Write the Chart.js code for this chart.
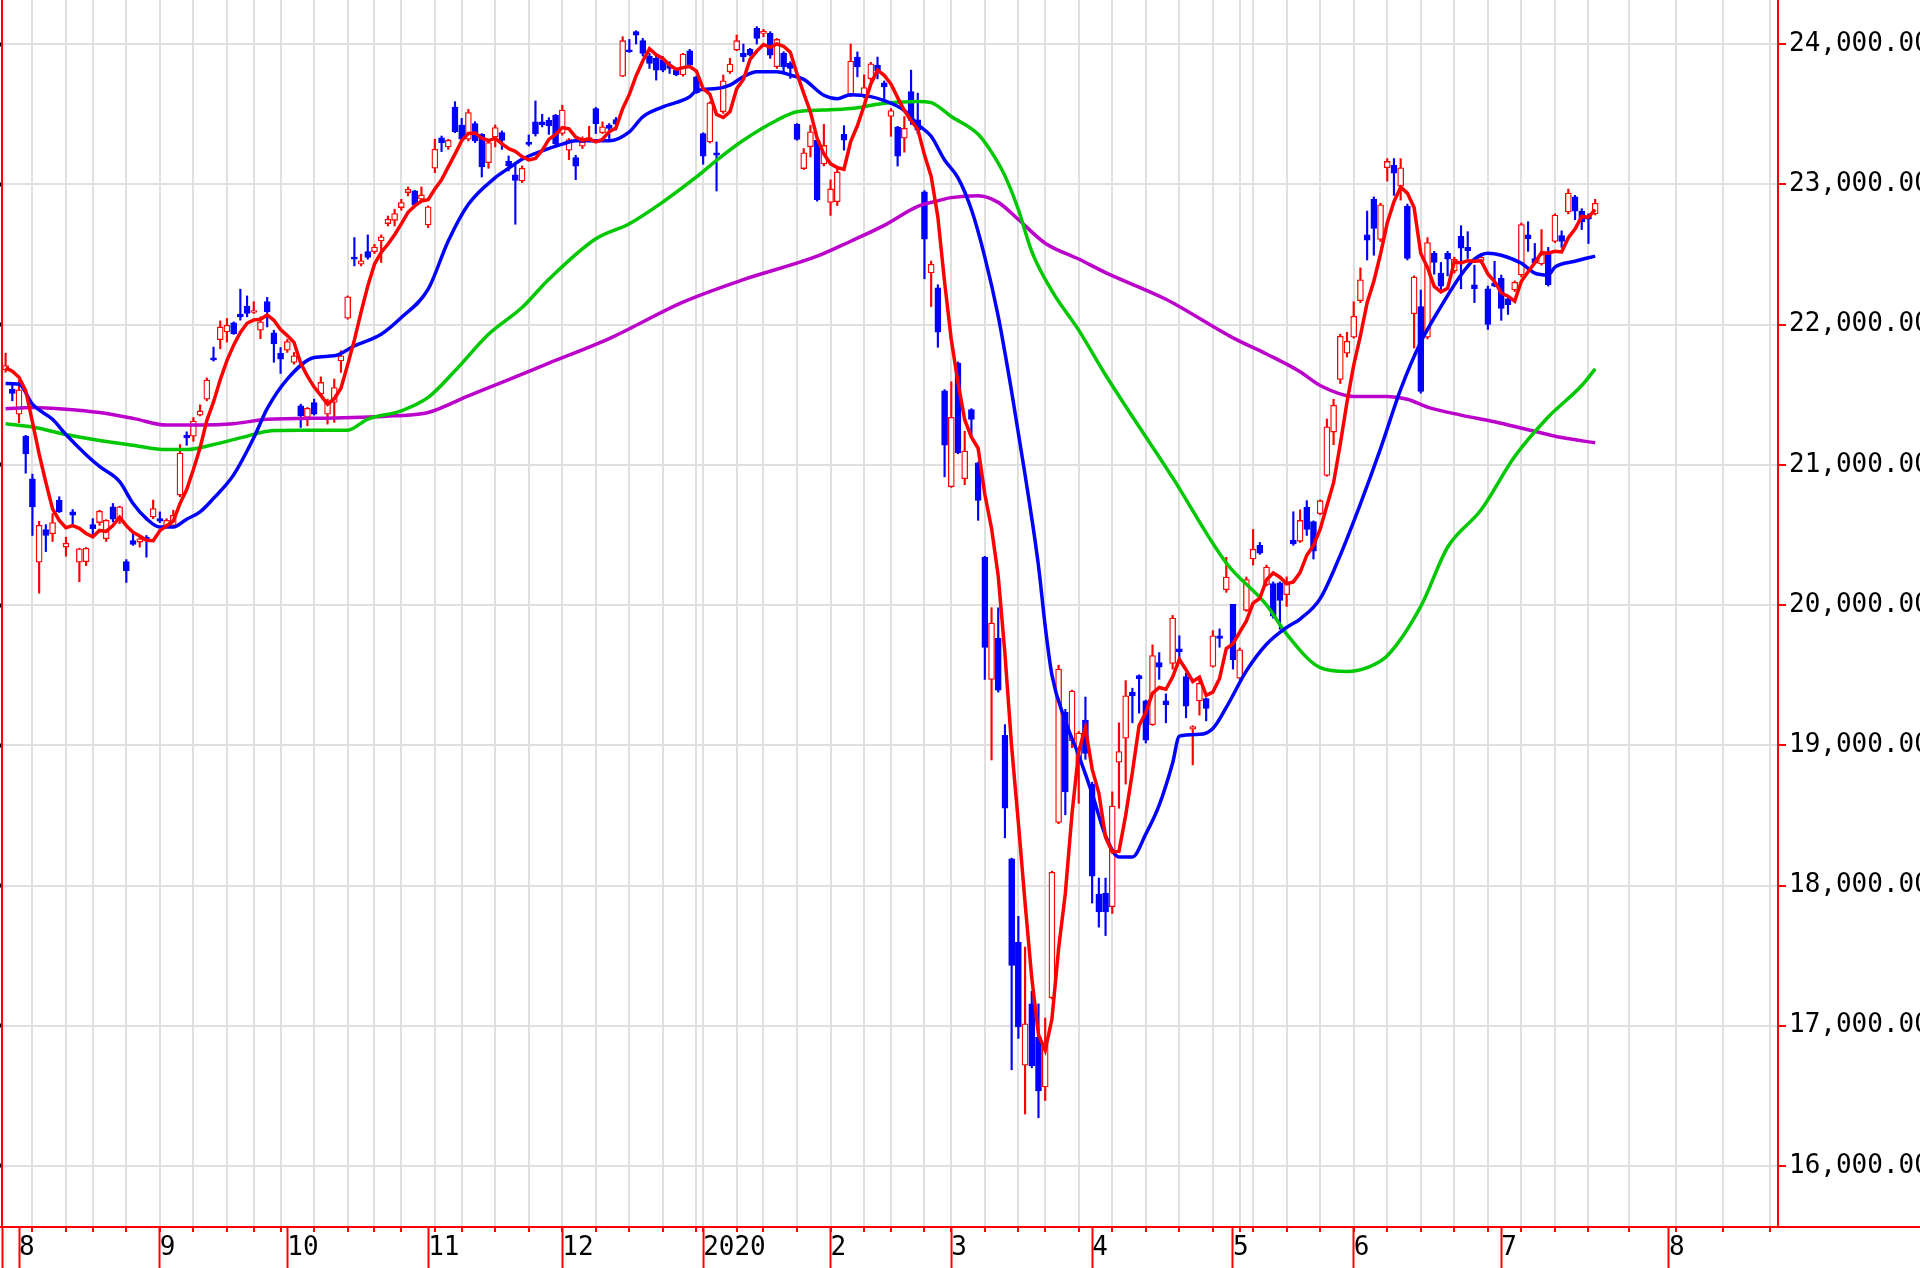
<!DOCTYPE html>
<html lang="ja">
<head>
<meta charset="utf-8">
<title>日足チャート</title>
<script src="https://cdn.jsdelivr.net/npm/chart.js@4/dist/chart.umd.min.js"></script>
<style>
  html, body { margin: 0; padding: 0; background: #fff; }
  #wrap { width: 1920px; height: 1268px; position: relative; }
</style>
</head>
<body>
<div id="wrap"><canvas id="chart"></canvas></div>
<script>
// daily candles, 2019-07-30 .. 2020-07-21 (index = trading day)
const opens = [
  21676, 21540, 21360, 21204, 20899, 20305, 20537, 20508, 20748, 20413,
  20664, 20305, 20309, 20573, 20588, 20472, 20700, 20597, 20309, 20460,
  20449, 20484, 20628, 20616, 20568, 20568, 20784, 21211, 21204, 21353,
  21468, 21763, 21892, 21947, 22012, 22074, 22132, 22086, 21959, 22163,
  21940, 21794, 21817, 21729, 21421, 21338, 21444, 21504, 21361, 21444,
  21741, 22045, 22478, 22430, 22520, 22520, 22596, 22720, 22743, 22834,
  22941, 22953, 22893, 22710, 23114, 23332, 23266, 23551, 23423, 23321,
  23432, 23356, 23154, 23337, 23368, 23166, 23067, 23024, 23297, 23446,
  23446, 23456, 23493, 23362, 23243, 23190, 23271, 23314, 23540, 23367,
  23421, 23462, 23771, 23957, 24088, 24024, 23914, 23898, 23890, 23850,
  23814, 23779, 23952, 23767, 23362, 23302, 23224, 23517, 23802, 23957,
  23933, 23962, 24112, 24076, 24076, 23838, 23933, 23862, 23429, 23112,
  23267, 23314, 23145, 22871, 22876, 23356, 23639, 23907, 23625, 23752,
  23850, 23723, 23483, 23407, 23328, 23661, 23460, 22947, 22368, 22261,
  21527, 20844, 21725, 20900, 21394, 21013, 20341, 19469, 19762, 19070,
  18190, 17594, 16719, 17156, 16918, 16563, 17200, 18450, 19234, 19032,
  18873, 19180, 18723, 17938, 17944, 17848, 18879, 19051, 19379, 19497,
  19316, 19147, 19590, 19316, 19584, 19688, 19489, 19114, 19316, 19333,
  19562, 19781, 20109, 20004, 19478, 19962, 20328, 20426, 20145, 20153,
  20159, 20074, 20463, 20454, 20699, 20595, 20651, 20924, 21233, 21608,
  21796, 21909, 22170, 22640, 22893, 22606, 23118, 23135, 22986, 22845,
  22077, 22128, 21909, 22508, 22367, 22508, 22381, 22629, 22550, 22283,
  22451, 22255, 22297, 22330, 22184, 22246, 22353, 22640, 22471, 22432,
  22508, 22592, 22634, 22803, 22910, 22809, 22775, 22789
];
const highs = [
  21796, 21576, 21600, 21210, 20933, 20597, 20573, 20652, 20772, 20484,
  20681, 20405, 20410, 20616, 20676, 20609, 20724, 20705, 20324, 20508,
  20496, 20496, 20748, 20664, 20616, 20676, 21144, 21235, 21336, 21427,
  21619, 21839, 22026, 22043, 22019, 22252, 22204, 22163, 22055, 22194,
  21959, 21836, 21896, 21801, 21432, 21409, 21468, 21627, 21468, 21611,
  21813, 22204, 22620, 22501, 22639, 22572, 22639, 22774, 22822, 22893,
  22981, 22957, 22981, 22846, 23321, 23344, 23321, 23589, 23470, 23534,
  23446, 23361, 23304, 23423, 23380, 23202, 23143, 23131, 23352, 23594,
  23499, 23475, 23498, 23564, 23326, 23207, 23338, 23414, 23548, 23445,
  23433, 23476, 24052, 24033, 24095, 24040, 23933, 23914, 23910, 23874,
  23819, 23933, 23962, 23771, 23367, 23588, 23302, 23779, 23898, 24064,
  24000, 23969, 24124, 24105, 24088, 24040, 23945, 23874, 23433, 23255,
  23421, 23326, 23427, 23032, 23116, 23418, 24000, 23944, 23780, 23870,
  23907, 23737, 23540, 23413, 23483, 23814, 23650, 22955, 22453, 22284,
  21536, 21592, 21733, 21239, 21400, 21019, 20347, 19981, 19980, 19147,
  18195, 17780, 17561, 17246, 17156, 17055, 18102, 19571, 19256, 19393,
  19098, 19344, 18737, 18053, 18053, 18668, 19160, 19461, 19407, 19502,
  19322, 19716, 19661, 19366, 19926, 19781, 19516, 19139, 19475, 19338,
  19817, 19830, 20340, 20005, 19694, 20200, 20539, 20446, 20285, 20165,
  20165, 20201, 20665, 20679, 20744, 20600, 20750, 21326, 21467, 21931,
  21945, 22162, 22404, 22809, 22910, 22865, 23183, 23183, 23183, 22859,
  22347, 22246, 22620, 22522, 22443, 22522, 22480, 22705, 22662, 22423,
  22494, 22274, 22451, 22353, 22198, 22311, 22724, 22733, 22578, 22677,
  22550, 22789, 22668, 22966, 22921, 22826, 22789, 22893
];
const lows = [
  21660, 21456, 21300, 20940, 20496, 20084, 20381, 20453, 20660, 20348,
  20568, 20166, 20281, 20496, 20568, 20453, 20592, 20580, 20161, 20425,
  20413, 20341, 20616, 20588, 20561, 20563, 20772, 21139, 21168, 21348,
  21456, 21739, 21827, 21875, 21930, 22031, 22055, 22079, 21899, 21983,
  21731, 21651, 21801, 21717, 21266, 21278, 21354, 21492, 21290, 21302,
  21658, 22038, 22418, 22418, 22466, 22506, 22442, 22703, 22703, 22815,
  22917, 22846, 22886, 22691, 23083, 23233, 23249, 23368, 23309, 23309,
  23297, 23052, 23114, 23266, 23249, 23095, 22715, 23012, 23273, 23344,
  23409, 23356, 23279, 23350, 23176, 23033, 23255, 23310, 23362, 23362,
  23326, 23386, 23767, 23940, 24000, 23914, 23826, 23743, 23802, 23790,
  23774, 23771, 23843, 23648, 23143, 23295, 22952, 23505, 23790, 23952,
  23874, 23914, 24000, 24052, 23898, 23826, 23802, 23755, 23314, 23105,
  23195, 22880, 23131, 22778, 22848, 23243, 23625, 23766, 23616, 23737,
  23752, 23596, 23342, 23130, 23229, 23427, 23360, 22326, 22128, 21838,
  20914, 20838, 21078, 20858, 21211, 20604, 19469, 18895, 19379, 18340,
  16686, 16910, 16371, 16700, 16344, 16467, 17192, 18441, 18504, 18983,
  18586, 18900, 17875, 17703, 17643, 17801, 18551, 18723, 19160, 19229,
  19016, 19141, 19470, 19160, 19543, 19612, 19196, 18860, 19215, 19174,
  19557, 19699, 20090, 19543, 19470, 19954, 20285, 20361, 20136, 19906,
  19827, 19990, 20426, 20446, 20496, 20328, 20643, 20918, 21143, 21579,
  21768, 21903, 22156, 22460, 22494, 22592, 23023, 22921, 22887, 22460,
  21833, 21510, 21897, 22359, 22240, 22347, 22367, 22255, 22471, 22156,
  22437, 21965, 22269, 22030, 22072, 22235, 22339, 22522, 22432, 22423,
  22274, 22584, 22550, 22789, 22747, 22677, 22578, 22781
];
const closes = [
  21707, 21508, 21535, 21077, 20700, 20568, 20496, 20588, 20664, 20441,
  20640, 20401, 20405, 20544, 20669, 20604, 20612, 20700, 20245, 20432,
  20472, 20460, 20688, 20597, 20604, 20640, 21084, 21192, 21312, 21384,
  21604, 21748, 21983, 21995, 21935, 22055, 22079, 22096, 22019, 22091,
  21863, 21753, 21879, 21777, 21349, 21402, 21361, 21587, 21456, 21551,
  21777, 22197, 22466, 22454, 22478, 22553, 22625, 22751, 22791, 22869,
  22964, 22853, 22924, 22839, 23249, 23297, 23313, 23375, 23321, 23511,
  23309, 23124, 23297, 23404, 23313, 23131, 23028, 23114, 23285, 23361,
  23423, 23416, 23290, 23529, 23319, 23129, 23302, 23333, 23433, 23410,
  23398, 23429, 24024, 23945, 24064, 23933, 23862, 23814, 23814, 23826,
  23779, 23929, 23850, 23652, 23200, 23581, 23207, 23738, 23857, 24024,
  23910, 23921, 24040, 24088, 23921, 24033, 23838, 23826, 23319, 23224,
  23374, 22890, 23277, 22967, 23088, 23314, 23879, 23836, 23689, 23859,
  23808, 23695, 23526, 23201, 23399, 23455, 23386, 22608, 22430, 21945,
  21140, 21338, 21084, 21098, 21324, 20745, 19698, 19871, 19393, 18551,
  17430, 16992, 17014, 16713, 16535, 16872, 18094, 19543, 18668, 19387,
  19087, 18942, 18067, 17812, 17812, 18567, 18955, 19352, 19352, 19475,
  19037, 19639, 19557, 19289, 19907, 19666, 19278, 19133, 19442, 19262,
  19781, 19762, 20200, 19610, 19681, 20181, 20398, 20370, 20271, 19920,
  20032, 20165, 20435, 20603, 20539, 20384, 20744, 21270, 21425, 21917,
  21880, 22058, 22319, 22601, 22685, 22854, 23163, 23079, 23118, 22471,
  22339, 21523, 22584, 22443, 22274, 22466, 22466, 22544, 22527, 22255,
  22480, 22001, 22274, 22114, 22142, 22302, 22713, 22612, 22437, 22499,
  22283, 22781, 22592, 22938, 22809, 22733, 22752, 22865
];

// red line, one value per day
const ma5 = [
  21691, 21667, 21624, 21528, 21305, 21078, 20875, 20686, 20603, 20551,
  20566, 20547, 20510, 20486, 20532, 20525, 20567, 20626, 20566, 20519,
  20492, 20462, 20459, 20530, 20564, 20598, 20723, 20823, 20966, 21122,
  21315, 21448, 21606, 21743, 21853, 21943, 22009, 22032, 22037, 22068,
  22030, 21964, 21921, 21873, 21724, 21632, 21554, 21495, 21431, 21471,
  21546, 21714, 21889, 22089, 22274, 22430, 22515, 22572, 22640, 22718,
  22800, 22846, 22880, 22890, 22966, 23032, 23124, 23215, 23311, 23363,
  23366, 23328, 23312, 23329, 23289, 23254, 23235, 23198, 23174, 23184,
  23242, 23320, 23355, 23404, 23395, 23337, 23314, 23322, 23303, 23321,
  23375, 23401, 23539, 23641, 23772, 23879, 23966, 23924, 23897, 23850,
  23819, 23832, 23840, 23807, 23682, 23642, 23498, 23476, 23517, 23681,
  23747, 23890, 23950, 23997, 23976, 24001, 23984, 23941, 23787, 23648,
  23516, 23327, 23217, 23146, 23119, 23107, 23305, 23417, 23561, 23715,
  23814, 23777, 23715, 23618, 23526, 23455, 23393, 23210, 23056, 22765,
  22302, 21892, 21587, 21321, 21197, 21118, 20790, 20547, 20206, 19652,
  18989, 18447, 17876, 17340, 16937, 16825, 17046, 17551, 17942, 18513,
  18956, 19125, 18830, 18659, 18344, 18240, 18243, 18500, 18808, 19140,
  19234, 19371, 19412, 19399, 19486, 19612, 19539, 19455, 19485, 19356,
  19379, 19476, 19689, 19723, 19807, 19887, 20014, 20048, 20180, 20228,
  20198, 20152, 20165, 20231, 20355, 20425, 20541, 20708, 20872, 21148,
  21447, 21710, 21920, 22155, 22309, 22503, 22724, 22876, 22980, 22937,
  22834, 22506, 22407, 22272, 22233, 22258, 22447, 22439, 22455, 22452,
  22454, 22361, 22307, 22225, 22202, 22167, 22309, 22377, 22441, 22513,
  22509, 22522, 22518, 22619, 22681, 22771, 22765, 22819
];
// blue, green, purple lines: [day, value]
const ma25 = [
  [0, 21580], [2, 21575], [4, 21432], [7, 21324], [9, 21216], [12, 21072], [14, 20988],
  [17, 20880], [19, 20724], [21, 20616], [23, 20556], [25, 20556], [27, 20612], [29, 20664],
  [31, 20760], [34, 20928], [37, 21192], [39, 21400], [42, 21611], [46, 21765], [49, 21777],
  [52, 21848], [56, 21931], [59, 22050], [63, 22252], [66, 22596], [69, 22857], [73, 23047],
  [75, 23114], [77, 23178], [80, 23238], [83, 23286], [85, 23310], [90, 23310], [93, 23374],
  [95, 23481], [98, 23552], [102, 23624], [103, 23667], [106, 23683], [108, 23707], [110, 23767],
  [112, 23802], [115, 23802], [117, 23779], [119, 23748], [122, 23635], [124, 23610], [126, 23639],
  [129, 23625], [131, 23596], [134, 23526], [136, 23427], [138, 23342], [140, 23173], [142, 23046],
  [144, 22820], [146, 22481], [148, 22058], [150, 21521], [152, 20929], [154, 20279], [155, 19850],
  [156, 19502], [158, 19174], [160, 18928], [162, 18655], [164, 18354], [166, 18203], [168, 18203],
  [170, 18367], [172, 18573], [174, 18873], [175, 19065], [178, 19078], [180, 19120], [182, 19270],
  [185, 19530], [188, 19720], [191, 19840], [193, 19900], [196, 20046], [199, 20356], [202, 20721],
  [205, 21115], [208, 21537], [211, 21875], [214, 22128], [217, 22353], [219, 22466], [221, 22508],
  [223, 22494], [226, 22437], [228, 22367], [230, 22353], [231, 22409], [234, 22451], [237, 22488]
];
const ma75 = [
  [0, 21293], [4, 21269], [9, 21216], [14, 21173], [19, 21139], [24, 21108], [27, 21108],
  [31, 21144], [35, 21192], [40, 21245], [44, 21247], [51, 21247], [54, 21326], [59, 21385],
  [63, 21480], [67, 21670], [72, 21931], [77, 22121], [81, 22323], [88, 22612], [93, 22719],
  [98, 22874], [103, 23052], [106, 23171], [110, 23314], [115, 23457], [118, 23517], [122, 23529],
  [126, 23540], [131, 23577], [136, 23591], [138, 23582], [141, 23483], [145, 23356], [147, 23229],
  [149, 23060], [151, 22820], [153, 22520], [156, 22240], [160, 21960], [164, 21640], [174, 20908],
  [182, 20300], [188, 20000], [191, 19793], [196, 19554], [200, 19526], [203, 19554], [206, 19638],
  [211, 19990], [215, 20412], [220, 20679], [225, 21059], [230, 21341], [235, 21565], [237, 21684]
];
const ma200 = [
  [0, 21400], [4, 21408], [9, 21396], [14, 21372], [19, 21331], [24, 21283], [29, 21283],
  [34, 21293], [39, 21324], [49, 21333], [58, 21349], [63, 21373], [69, 21492], [74, 21587],
  [81, 21725], [90, 21900], [101, 22160], [110, 22320], [121, 22487], [126, 22594], [131, 22707],
  [136, 22843], [139, 22882], [141, 22905], [145, 22919], [148, 22871], [151, 22749], [155, 22580],
  [160, 22467], [164, 22370], [173, 22180], [183, 21905], [188, 21790], [193, 21664], [196, 21565],
  [201, 21487], [206, 21487], [209, 21467], [212, 21411], [217, 21354], [222, 21307], [227, 21250],
  [232, 21194], [237, 21157]
];

// axis ticks (day index) and labels
const weekStarts = [4, 9, 13, 18, 23, 28, 33, 37, 41, 46, 51, 55, 59, 64, 68, 73, 78, 83, 88, 93,
  98, 103, 104, 109, 113, 118, 123, 128, 132, 137, 141, 146, 151, 155, 160, 165, 170, 175, 180,
  184, 186, 191, 196, 201, 206, 211, 216, 221, 226, 231, 236, 242, 249, 256, 263];
const monthTicks = [-0.537, 2, 23, 42, 63, 83, 104, 123, 141, 162, 183, 201, 223, 248];
const monthLabels = ['', '8', '9', '10', '11', '12', '2020', '2', '3', '4', '5', '6', '7', '8'];
const yTicks = [16000, 17000, 18000, 19000, 20000, 21000, 22000, 23000, 24000];

const RED = '#ff0000', BLUE = '#0000ff', GRID = '#e0e0e0';
const FONT = { family: 'DejaVu Sans Mono', size: 26 };
const xMin = -0.537, xMax = 264.26, yMin = 15565, yMax = 24314;
const isUp = i => closes[i] >= opens[i];
const noPad = s => { s.paddingTop = 0; s.paddingBottom = 0; s.paddingLeft = 0; s.paddingRight = 0; };

const bottomLine = {
  id: 'bottomLine',
  afterDraw(chart) {
    const { ctx, chartArea } = chart;
    ctx.save();
    ctx.fillStyle = RED;
    ctx.fillRect(0, chartArea.bottom - 1, chart.width, 2);
    ctx.restore();
  }
};

new Chart(document.getElementById('chart'), {
  type: 'bar',
  data: {
    datasets: [
      {
        type: 'line', label: 'MA5', order: 0,
        data: ma5.map((v, i) => ({ x: i, y: v })),
        borderColor: RED, borderWidth: 3.5, pointRadius: 0, tension: 0
      },
      {
        type: 'line', label: 'MA25', order: 1,
        data: ma25.map(p => ({ x: p[0], y: p[1] })),
        borderColor: BLUE, borderWidth: 3.5, pointRadius: 0, cubicInterpolationMode: 'monotone'
      },
      {
        type: 'line', label: 'MA75', order: 2,
        data: ma75.map(p => ({ x: p[0], y: p[1] })),
        borderColor: '#00c800', borderWidth: 3.5, pointRadius: 0, cubicInterpolationMode: 'monotone'
      },
      {
        type: 'line', label: 'MA200', order: 3,
        data: ma200.map(p => ({ x: p[0], y: p[1] })),
        borderColor: '#bb00cc', borderWidth: 3.5, pointRadius: 0, cubicInterpolationMode: 'monotone'
      },
      {
        label: 'body', order: 4, grouped: false,
        data: opens.map((o, i) => ({ x: i, y: [o, closes[i]] })),
        backgroundColor: c => isUp(c.dataIndex) ? '#ffffff' : BLUE,
        borderColor: c => isUp(c.dataIndex) ? RED : BLUE,
        borderWidth: 1.3, borderSkipped: false, barThickness: 6, minBarLength: 2
      },
      {
        label: 'wick', order: 5, grouped: false,
        data: highs.map((h, i) => ({ x: i, y: [lows[i], h] })),
        backgroundColor: c => isUp(c.dataIndex) ? RED : BLUE,
        barThickness: 1.5
      }
    ]
  },
  options: {
    responsive: true,
    maintainAspectRatio: false,
    animation: false,
    events: [],
    layout: { padding: 0 },
    plugins: { legend: { display: false }, tooltip: { enabled: false } },
    scales: {
      x: {
        type: 'linear', position: 'bottom', min: xMin, max: xMax, offset: false, weight: 0,
        afterBuildTicks: s => { s.ticks = weekStarts.map(v => ({ value: v })); },
        afterFit: s => { s.height = 0; noPad(s); },
        grid: { offset: false, color: GRID, lineWidth: 2, tickColor: RED, tickLength: 5, tickWidth: 2 },
        border: { display: false },
        ticks: { display: false }
      },
      x2: {
        type: 'linear', position: 'bottom', min: xMin, max: xMax, offset: false, weight: 1,
        afterBuildTicks: s => { s.ticks = monthTicks.map(v => ({ value: v })); },
        afterFit: s => { s.height = 41; noPad(s); },
        grid: { drawOnChartArea: false, offset: false, tickColor: RED, tickLength: 41, tickWidth: 2 },
        border: { display: false },
        ticks: {
          autoSkip: false, maxRotation: 0, minRotation: 0, align: 'start', padding: -35,
          color: '#000', font: FONT,
          callback: (v, i) => monthLabels[i]
        }
      },
      y: {
        type: 'linear', position: 'right', min: yMin, max: yMax,
        afterBuildTicks: s => { s.ticks = yTicks.map(v => ({ value: v })); },
        afterFit: s => { s.width = 142; noPad(s); },
        grid: { color: GRID, lineWidth: 2, tickColor: RED, tickLength: 8, tickWidth: 2 },
        border: { color: RED, width: 2 },
        ticks: {
          color: '#000', padding: 3, font: FONT,
          callback: v => v.toLocaleString('en-US', { minimumFractionDigits: 2, maximumFractionDigits: 2 })
        }
      },
      yl: {
        type: 'linear', position: 'left', min: yMin, max: yMax,
        afterBuildTicks: s => { s.ticks = yTicks.map(v => ({ value: v })); },
        afterFit: s => { s.width = 2; noPad(s); },
        grid: { drawOnChartArea: false, tickColor: '#000', tickLength: 3, tickWidth: 4 },
        border: { color: RED, width: 2 },
        ticks: { display: false }
      }
    }
  },
  plugins: [bottomLine]
});
</script>
</body>
</html>
